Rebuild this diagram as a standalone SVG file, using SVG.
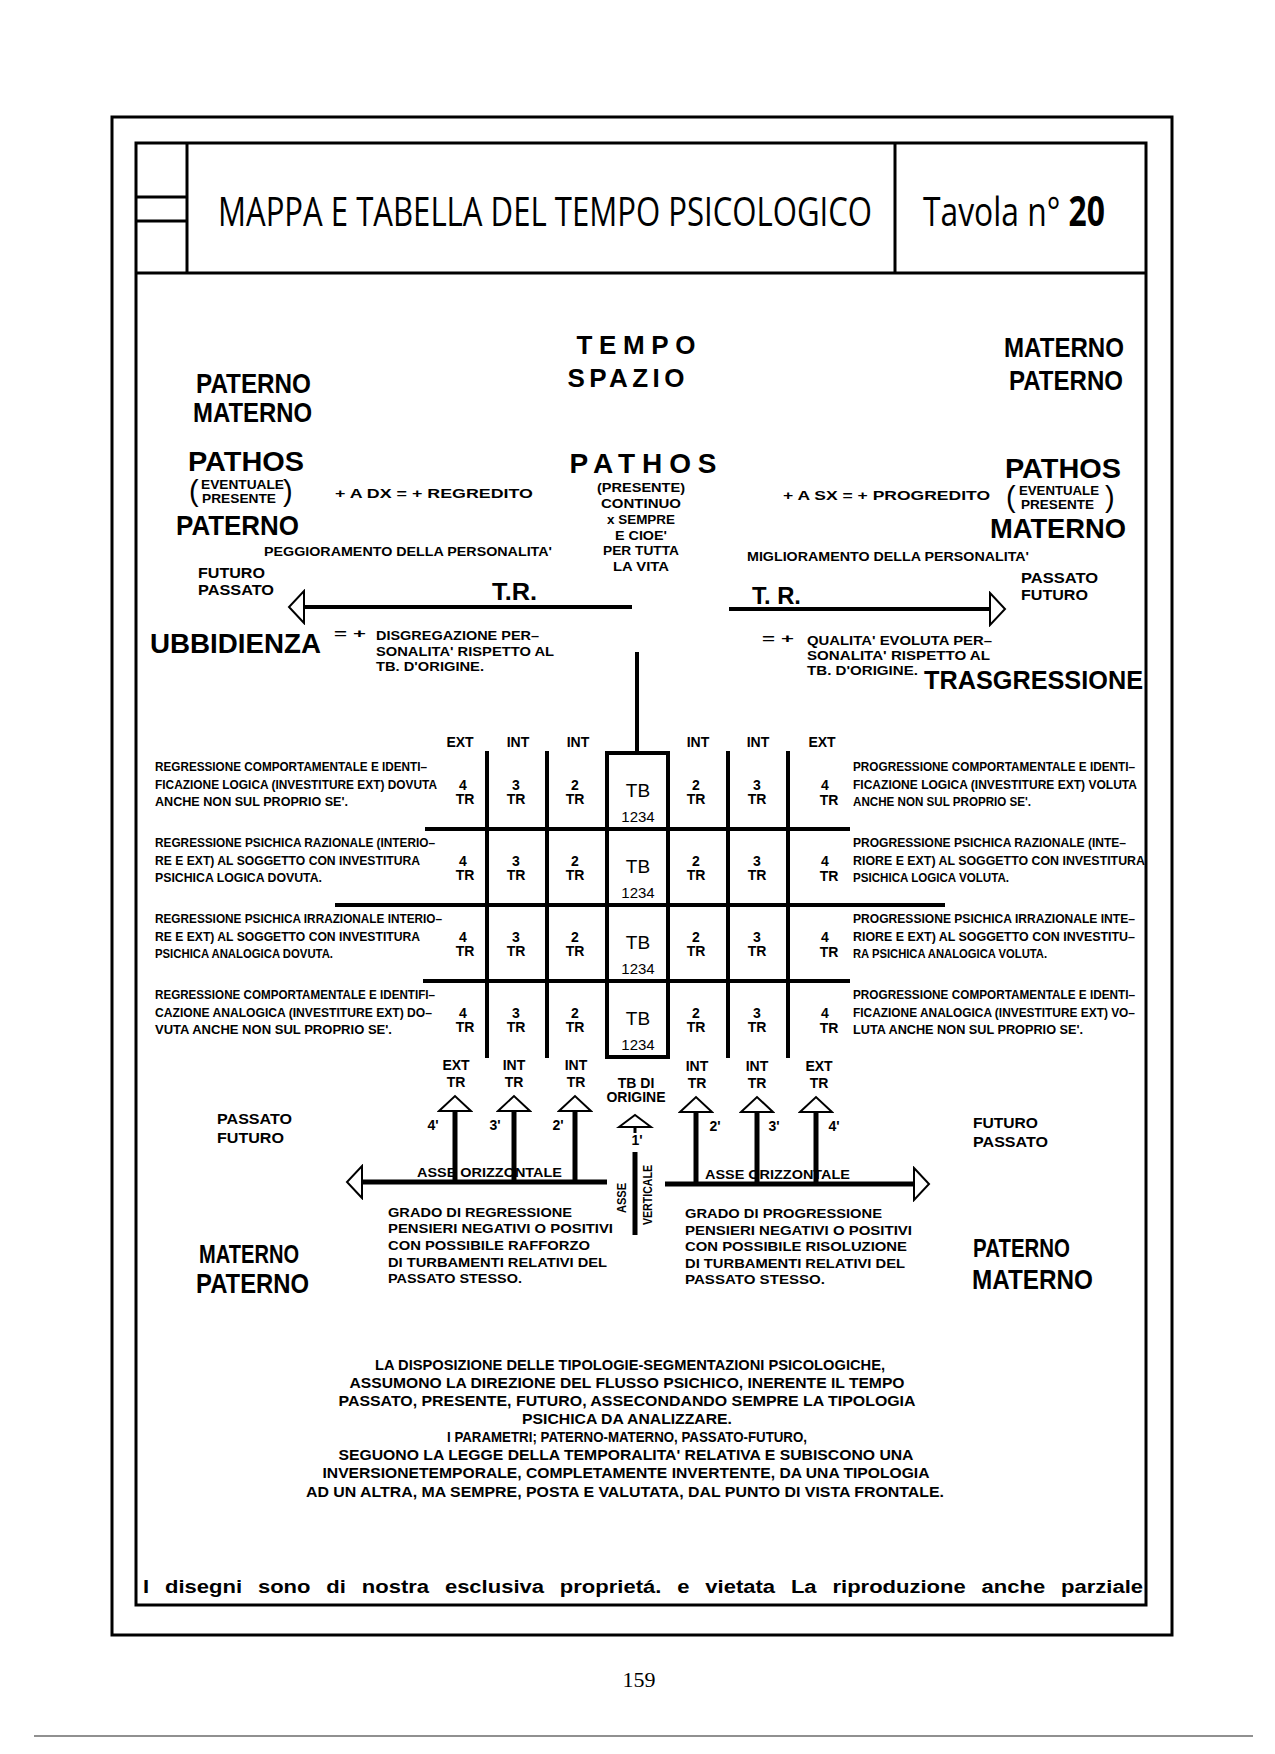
<svg xmlns="http://www.w3.org/2000/svg" width="1275" height="1754" viewBox="0 0 1275 1754">
<style>
text { font-family: "Liberation Sans", Arial, sans-serif; font-weight: bold; fill: #000; }
.big { font-size: 28px; }
.mid { font-size: 15px; }
.sm { font-size: 13px; }
.xs { font-size: 12px; }
.rt { font-size: 12px; }
.cell { font-size: 14px; text-anchor: middle; }
.tb { font-size: 19px; font-weight: normal; text-anchor: middle; }
.num { font-size: 15px; font-weight: normal; text-anchor: middle; }
.c { text-anchor: middle; }
.par { font-size: 29px; font-weight: normal; }
.frame { fill: none; stroke: #000; stroke-width: 3; }
.g { stroke: #000; stroke-width: 4; fill: none; }
.ax { stroke: #000; stroke-width: 5; fill: none; }
.title { font-family: "Open Sans", "Liberation Sans", sans-serif; font-weight: normal; font-size: 33px; }
.body { font-size: 15px; text-anchor: middle; }
.foot { font-size: 18px; }
.page { font-family: "Liberation Serif", serif; font-weight: normal; font-size: 22px; text-anchor: middle; }
</style>
<defs>
<marker id="head" markerUnits="userSpaceOnUse" markerWidth="20" markerHeight="36" viewBox="-2 -18 20 36" refX="0" refY="0" orient="auto">
<path d="M0,-16 L15,0 L0,16 Z" fill="#fff" stroke="#000" stroke-width="2"/>
</marker>
</defs>
<rect width="1275" height="1754" fill="#fff"/>

<g id="frame">
<rect class="frame" x="112" y="117" width="1060" height="1518"/>
<rect class="frame" x="136" y="143" width="1010" height="1462"/>
<line class="frame" x1="136" y1="273" x2="1146" y2="273"/>
<line class="frame" x1="187" y1="143" x2="187" y2="273"/>
<line class="frame" x1="136" y1="197" x2="187" y2="197"/>
<line class="frame" x1="136" y1="221" x2="187" y2="221"/>
<line class="frame" x1="895" y1="143" x2="895" y2="273"/>
</g>

<g id="header">
<text class="title" x="218" y="226" transform="matrix(1,0,0,1.22,0,-49.7)" textLength="654" lengthAdjust="spacingAndGlyphs">MAPPA E TABELLA DEL TEMPO PSICOLOGICO</text>
<text class="title" x="923" y="226" transform="matrix(1,0,0,1.22,0,-49.7)" textLength="182" lengthAdjust="spacingAndGlyphs">Tavola n° <tspan font-weight="bold">20</tspan></text>
</g>

<g id="left-top">
<text class="big" x="196" y="393" textLength="115" lengthAdjust="spacingAndGlyphs">PATERNO</text>
<text class="big" x="193" y="422" textLength="119" lengthAdjust="spacingAndGlyphs">MATERNO</text>
<text class="big" x="188" y="471" textLength="116" lengthAdjust="spacingAndGlyphs">PATHOS</text>
<text class="par" x="189" y="501">(</text>
<text class="par" x="283" y="501">)</text>
<text class="xs" x="201" y="489" textLength="83" lengthAdjust="spacingAndGlyphs">EVENTUALE</text>
<text class="xs" x="202" y="503" textLength="74" lengthAdjust="spacingAndGlyphs">PRESENTE</text>
<text class="sm" x="335" y="498" textLength="198" lengthAdjust="spacingAndGlyphs">+  A  DX  =  +  REGREDITO</text>
<text class="big" x="176" y="535" textLength="123" lengthAdjust="spacingAndGlyphs">PATERNO</text>
<text class="sm" x="264" y="556" textLength="288" lengthAdjust="spacingAndGlyphs">PEGGIORAMENTO  DELLA  PERSONALITA'</text>
<text class="mid" x="198" y="578" textLength="67" lengthAdjust="spacingAndGlyphs">FUTURO</text>
<text class="mid" x="198" y="595" textLength="76" lengthAdjust="spacingAndGlyphs">PASSATO</text>
<text x="492" y="600" font-size="24" textLength="45" lengthAdjust="spacingAndGlyphs">T.R.</text>
<text class="big" x="150" y="653" textLength="171" lengthAdjust="spacingAndGlyphs">UBBIDIENZA</text>
<text class="sm" x="334" y="638" textLength="32" lengthAdjust="spacingAndGlyphs">=  +</text>
<text class="sm" x="376" y="640" textLength="163" lengthAdjust="spacingAndGlyphs">DISGREGAZIONE  PER–</text>
<text class="sm" x="376" y="656" textLength="178" lengthAdjust="spacingAndGlyphs">SONALITA'  RISPETTO  AL</text>
<text class="sm" x="376" y="671" textLength="108" lengthAdjust="spacingAndGlyphs">TB.  D'ORIGINE.</text>
</g>

<g id="center-top">
<text class="c" x="636" y="354" font-size="26" textLength="119" lengthAdjust="spacing">TEMPO</text>
<text class="c" x="626" y="387" font-size="26" textLength="117" lengthAdjust="spacing">SPAZIO</text>
<text class="c big" x="643" y="473" textLength="147" lengthAdjust="spacing">PATHOS</text>
<text class="c sm" x="641" y="492" textLength="88" lengthAdjust="spacingAndGlyphs">(PRESENTE)</text>
<text class="c sm" x="641" y="508" textLength="80" lengthAdjust="spacingAndGlyphs">CONTINUO</text>
<text class="c sm" x="641" y="524" textLength="68" lengthAdjust="spacingAndGlyphs">x  SEMPRE</text>
<text class="c sm" x="641" y="540" textLength="52" lengthAdjust="spacingAndGlyphs">E  CIOE'</text>
<text class="c sm" x="641" y="555" textLength="76" lengthAdjust="spacingAndGlyphs">PER  TUTTA</text>
<text class="c sm" x="641" y="571" textLength="56" lengthAdjust="spacingAndGlyphs">LA  VITA</text>
</g>

<g id="right-top">
<text class="big" x="1004" y="357" textLength="120" lengthAdjust="spacingAndGlyphs">MATERNO</text>
<text class="big" x="1009" y="390" textLength="114" lengthAdjust="spacingAndGlyphs">PATERNO</text>
<text class="big" x="1005" y="478" textLength="116" lengthAdjust="spacingAndGlyphs">PATHOS</text>
<text class="par" x="1006" y="507">(</text>
<text class="par" x="1105" y="507">)</text>
<text class="xs" x="1019" y="495" textLength="80" lengthAdjust="spacingAndGlyphs">EVENTUALE</text>
<text class="xs" x="1021" y="509" textLength="73" lengthAdjust="spacingAndGlyphs">PRESENTE</text>
<text class="sm" x="783" y="500" textLength="207" lengthAdjust="spacingAndGlyphs">+  A  SX  =  +  PROGREDITO</text>
<text class="big" x="990" y="538" textLength="136" lengthAdjust="spacingAndGlyphs">MATERNO</text>
<text class="sm" x="747" y="561" textLength="282" lengthAdjust="spacingAndGlyphs">MIGLIORAMENTO  DELLA  PERSONALITA'</text>
<text class="mid" x="1021" y="583" textLength="77" lengthAdjust="spacingAndGlyphs">PASSATO</text>
<text class="mid" x="1021" y="600" textLength="67" lengthAdjust="spacingAndGlyphs">FUTURO</text>
<text x="752" y="604" font-size="24" textLength="49" lengthAdjust="spacingAndGlyphs">T. R.</text>
<text class="sm" x="762" y="643" textLength="32" lengthAdjust="spacingAndGlyphs">=  +</text>
<text class="sm" x="807" y="645" textLength="185" lengthAdjust="spacingAndGlyphs">QUALITA'  EVOLUTA  PER–</text>
<text class="sm" x="807" y="660" textLength="183" lengthAdjust="spacingAndGlyphs">SONALITA'  RISPETTO  AL</text>
<text class="xs" x="807" y="675" textLength="111" lengthAdjust="spacingAndGlyphs">TB.  D'ORIGINE.</text>
<text x="924" y="689" font-size="26" textLength="219" lengthAdjust="spacingAndGlyphs">TRASGRESSIONE</text>
</g>

<g id="grid">
<line class="g" x1="637" y1="652" x2="637" y2="753"/>
<text class="cell" x="460" y="747" font-size="13">EXT</text>
<text class="cell" x="518" y="747" font-size="13">INT</text>
<text class="cell" x="578" y="747" font-size="13">INT</text>
<text class="cell" x="698" y="747" font-size="13">INT</text>
<text class="cell" x="758" y="747" font-size="13">INT</text>
<text class="cell" x="822" y="747" font-size="13">EXT</text>
<rect class="g" x="607" y="753" width="61" height="304"/>
<line class="g" x1="487" y1="751" x2="487" y2="1058"/>
<line class="g" x1="547" y1="751" x2="547" y2="1058"/>
<line class="g" x1="728" y1="751" x2="728" y2="1058"/>
<line class="g" x1="788" y1="751" x2="788" y2="1058"/>
<line class="g" x1="425" y1="829" x2="850" y2="829"/>
<line class="g" x1="335" y1="905" x2="945" y2="905"/>
<line class="g" x1="423" y1="981" x2="850" y2="981"/>
</g>

<g id="row1">
<text class="cell" x="463" y="790">4</text><text class="cell" x="465" y="804">TR</text>
<text class="cell" x="516" y="790">3</text><text class="cell" x="516" y="804">TR</text>
<text class="cell" x="575" y="790">2</text><text class="cell" x="575" y="804">TR</text>
<text class="tb" x="638" y="797">TB</text><text class="num" x="638" y="822">1234</text>
<text class="cell" x="696" y="790">2</text><text class="cell" x="696" y="804">TR</text>
<text class="cell" x="757" y="790">3</text><text class="cell" x="757" y="804">TR</text>
<text class="cell" x="825" y="790">4</text><text class="cell" x="829" y="805">TR</text>
<text class="rt" x="155" y="771" textLength="272" lengthAdjust="spacingAndGlyphs">REGRESSIONE COMPORTAMENTALE E IDENTI–</text>
<text class="rt" x="155" y="789" textLength="282" lengthAdjust="spacingAndGlyphs">FICAZIONE LOGICA (INVESTITURE EXT) DOVUTA</text>
<text class="rt" x="155" y="806" textLength="193" lengthAdjust="spacingAndGlyphs">ANCHE NON SUL PROPRIO SE'.</text>
<text class="rt" x="853" y="771" textLength="282" lengthAdjust="spacingAndGlyphs">PROGRESSIONE COMPORTAMENTALE E IDENTI–</text>
<text class="rt" x="853" y="789" textLength="284" lengthAdjust="spacingAndGlyphs">FICAZIONE LOGICA (INVESTITURE EXT) VOLUTA</text>
<text class="rt" x="853" y="806" textLength="178" lengthAdjust="spacingAndGlyphs">ANCHE NON SUL PROPRIO SE'.</text>
</g>

<g id="row2">
<text class="cell" x="463" y="866">4</text><text class="cell" x="465" y="880">TR</text>
<text class="cell" x="516" y="866">3</text><text class="cell" x="516" y="880">TR</text>
<text class="cell" x="575" y="866">2</text><text class="cell" x="575" y="880">TR</text>
<text class="tb" x="638" y="873">TB</text><text class="num" x="638" y="898">1234</text>
<text class="cell" x="696" y="866">2</text><text class="cell" x="696" y="880">TR</text>
<text class="cell" x="757" y="866">3</text><text class="cell" x="757" y="880">TR</text>
<text class="cell" x="825" y="866">4</text><text class="cell" x="829" y="881">TR</text>
<text class="rt" x="155" y="847" textLength="280" lengthAdjust="spacingAndGlyphs">REGRESSIONE PSICHICA RAZIONALE (INTERIO–</text>
<text class="rt" x="155" y="865" textLength="265" lengthAdjust="spacingAndGlyphs">RE E EXT) AL SOGGETTO CON INVESTITURA</text>
<text class="rt" x="155" y="882" textLength="167" lengthAdjust="spacingAndGlyphs">PSICHICA LOGICA DOVUTA.</text>
<text class="rt" x="853" y="847" textLength="273" lengthAdjust="spacingAndGlyphs">PROGRESSIONE PSICHICA RAZIONALE (INTE–</text>
<text class="rt" x="853" y="865" textLength="292" lengthAdjust="spacingAndGlyphs">RIORE E EXT) AL SOGGETTO CON INVESTITURA</text>
<text class="rt" x="853" y="882" textLength="156" lengthAdjust="spacingAndGlyphs">PSICHICA LOGICA VOLUTA.</text>
</g>

<g id="row3">
<text class="cell" x="463" y="942">4</text><text class="cell" x="465" y="956">TR</text>
<text class="cell" x="516" y="942">3</text><text class="cell" x="516" y="956">TR</text>
<text class="cell" x="575" y="942">2</text><text class="cell" x="575" y="956">TR</text>
<text class="tb" x="638" y="949">TB</text><text class="num" x="638" y="974">1234</text>
<text class="cell" x="696" y="942">2</text><text class="cell" x="696" y="956">TR</text>
<text class="cell" x="757" y="942">3</text><text class="cell" x="757" y="956">TR</text>
<text class="cell" x="825" y="942">4</text><text class="cell" x="829" y="957">TR</text>
<text class="rt" x="155" y="923" textLength="287" lengthAdjust="spacingAndGlyphs">REGRESSIONE PSICHICA IRRAZIONALE INTERIO–</text>
<text class="rt" x="155" y="941" textLength="265" lengthAdjust="spacingAndGlyphs">RE E EXT) AL SOGGETTO CON INVESTITURA</text>
<text class="rt" x="155" y="958" textLength="178" lengthAdjust="spacingAndGlyphs">PSICHICA ANALOGICA DOVUTA.</text>
<text class="rt" x="853" y="923" textLength="282" lengthAdjust="spacingAndGlyphs">PROGRESSIONE PSICHICA IRRAZIONALE INTE–</text>
<text class="rt" x="853" y="941" textLength="282" lengthAdjust="spacingAndGlyphs">RIORE E EXT) AL SOGGETTO CON INVESTITU–</text>
<text class="rt" x="853" y="958" textLength="194" lengthAdjust="spacingAndGlyphs">RA PSICHICA ANALOGICA VOLUTA.</text>
</g>

<g id="row4">
<text class="cell" x="463" y="1018">4</text><text class="cell" x="465" y="1032">TR</text>
<text class="cell" x="516" y="1018">3</text><text class="cell" x="516" y="1032">TR</text>
<text class="cell" x="575" y="1018">2</text><text class="cell" x="575" y="1032">TR</text>
<text class="tb" x="638" y="1025">TB</text><text class="num" x="638" y="1050">1234</text>
<text class="cell" x="696" y="1018">2</text><text class="cell" x="696" y="1032">TR</text>
<text class="cell" x="757" y="1018">3</text><text class="cell" x="757" y="1032">TR</text>
<text class="cell" x="825" y="1018">4</text><text class="cell" x="829" y="1033">TR</text>
<text class="rt" x="155" y="999" textLength="280" lengthAdjust="spacingAndGlyphs">REGRESSIONE COMPORTAMENTALE E IDENTIFI–</text>
<text class="rt" x="155" y="1017" textLength="277" lengthAdjust="spacingAndGlyphs">CAZIONE ANALOGICA (INVESTITURE EXT) DO–</text>
<text class="rt" x="155" y="1034" textLength="237" lengthAdjust="spacingAndGlyphs">VUTA ANCHE NON SUL PROPRIO SE'.</text>
<text class="rt" x="853" y="999" textLength="282" lengthAdjust="spacingAndGlyphs">PROGRESSIONE COMPORTAMENTALE E IDENTI–</text>
<text class="rt" x="853" y="1017" textLength="282" lengthAdjust="spacingAndGlyphs">FICAZIONE ANALOGICA (INVESTITURE EXT) VO–</text>
<text class="rt" x="853" y="1034" textLength="230" lengthAdjust="spacingAndGlyphs">LUTA ANCHE NON SUL PROPRIO SE'.</text>
</g>

<g id="bottom-labels">
<text class="cell" x="456" y="1070" font-size="13">EXT</text><text class="cell" x="456" y="1087" font-size="13">TR</text>
<text class="cell" x="514" y="1070" font-size="13">INT</text><text class="cell" x="514" y="1087" font-size="13">TR</text>
<text class="cell" x="576" y="1070" font-size="13">INT</text><text class="cell" x="576" y="1087" font-size="13">TR</text>
<text class="cell" x="636" y="1088" font-size="13">TB  DI</text><text class="cell" x="636" y="1102" font-size="13">ORIGINE</text>
<text class="cell" x="697" y="1071" font-size="13">INT</text><text class="cell" x="697" y="1088" font-size="13">TR</text>
<text class="cell" x="757" y="1071" font-size="13">INT</text><text class="cell" x="757" y="1088" font-size="13">TR</text>
<text class="cell" x="819" y="1071" font-size="13">EXT</text><text class="cell" x="819" y="1088" font-size="13">TR</text>
<text class="cell" x="433" y="1130" font-size="13">4'</text>
<text class="cell" x="495" y="1130" font-size="13">3'</text>
<text class="cell" x="558" y="1130" font-size="13">2'</text>
<text class="cell" x="715" y="1131" font-size="13">2'</text>
<text class="cell" x="774" y="1131" font-size="13">3'</text>
<text class="cell" x="834" y="1131" font-size="13">4'</text>
<text class="cell" x="637" y="1145" font-size="13">1'</text>
<text class="sm" x="417" y="1177" textLength="145" lengthAdjust="spacingAndGlyphs">ASSE  ORIZZONTALE</text>
<text class="sm" x="705" y="1179" textLength="145" lengthAdjust="spacingAndGlyphs">ASSE  ORIZZONTALE</text>
<text class="xs c" transform="translate(626,1198) rotate(-90)" textLength="30" lengthAdjust="spacingAndGlyphs">ASSE</text>
<text class="xs c" transform="translate(652,1195) rotate(-90)" textLength="60" lengthAdjust="spacingAndGlyphs">VERTICALE</text>
<text class="mid" x="217" y="1124" textLength="75" lengthAdjust="spacingAndGlyphs">PASSATO</text>
<text class="mid" x="217" y="1143" textLength="67" lengthAdjust="spacingAndGlyphs">FUTURO</text>
<text class="mid" x="973" y="1128" textLength="65" lengthAdjust="spacingAndGlyphs">FUTURO</text>
<text class="mid" x="973" y="1147" textLength="75" lengthAdjust="spacingAndGlyphs">PASSATO</text>
<text x="199" y="1263" font-size="25" textLength="100" lengthAdjust="spacingAndGlyphs">MATERNO</text>
<text x="196" y="1293" font-size="28" textLength="113" lengthAdjust="spacingAndGlyphs">PATERNO</text>
<text x="973" y="1257" font-size="25" textLength="97" lengthAdjust="spacingAndGlyphs">PATERNO</text>
<text x="972" y="1289" font-size="28" textLength="121" lengthAdjust="spacingAndGlyphs">MATERNO</text>
<text class="sm" x="388" y="1217" textLength="184" lengthAdjust="spacingAndGlyphs">GRADO  DI  REGRESSIONE</text>
<text class="sm" x="388" y="1233" textLength="225" lengthAdjust="spacingAndGlyphs">PENSIERI  NEGATIVI  O  POSITIVI</text>
<text class="sm" x="388" y="1250" textLength="202" lengthAdjust="spacingAndGlyphs">CON  POSSIBILE  RAFFORZO</text>
<text class="sm" x="388" y="1267" textLength="219" lengthAdjust="spacingAndGlyphs">DI  TURBAMENTI  RELATIVI  DEL</text>
<text class="sm" x="388" y="1283" textLength="134" lengthAdjust="spacingAndGlyphs">PASSATO  STESSO.</text>
<text class="sm" x="685" y="1218" textLength="197" lengthAdjust="spacingAndGlyphs">GRADO  DI  PROGRESSIONE</text>
<text class="sm" x="685" y="1235" textLength="227" lengthAdjust="spacingAndGlyphs">PENSIERI  NEGATIVI  O  POSITIVI</text>
<text class="sm" x="685" y="1251" textLength="222" lengthAdjust="spacingAndGlyphs">CON  POSSIBILE  RISOLUZIONE</text>
<text class="sm" x="685" y="1268" textLength="220" lengthAdjust="spacingAndGlyphs">DI  TURBAMENTI  RELATIVI  DEL</text>
<text class="sm" x="685" y="1284" textLength="140" lengthAdjust="spacingAndGlyphs">PASSATO  STESSO.</text>
</g>

<g id="connectors">
<line class="g" x1="632" y1="607" x2="304" y2="607" marker-end="url(#head)"/>
<line class="g" x1="729" y1="609" x2="990" y2="609" marker-end="url(#head)"/>
<line class="ax" x1="455" y1="1182" x2="455" y2="1111" marker-end="url(#head)"/>
<line class="ax" x1="514" y1="1182" x2="514" y2="1111" marker-end="url(#head)"/>
<line class="ax" x1="575" y1="1182" x2="575" y2="1111" marker-end="url(#head)"/>
<line class="ax" x1="696" y1="1184" x2="696" y2="1112" marker-end="url(#head)"/>
<line class="ax" x1="757" y1="1184" x2="757" y2="1112" marker-end="url(#head)"/>
<line class="ax" x1="816" y1="1184" x2="816" y2="1112" marker-end="url(#head)"/>
<polygon points="619,1127 635,1115 651,1127" fill="#fff" stroke="#000" stroke-width="2"/>
<line x1="635" y1="1127" x2="635" y2="1133" stroke="#000" stroke-width="3"/>
<line class="ax" x1="635" y1="1152" x2="635" y2="1235"/>
<line class="ax" x1="607" y1="1182" x2="362" y2="1182" marker-end="url(#head)"/>
<line class="ax" x1="665" y1="1184" x2="914" y2="1184" marker-end="url(#head)"/>
</g>

<g id="notes">
<text class="body" x="630" y="1370" textLength="510" lengthAdjust="spacingAndGlyphs">LA DISPOSIZIONE DELLE TIPOLOGIE-SEGMENTAZIONI PSICOLOGICHE,</text>
<text class="body" x="627" y="1388" textLength="555" lengthAdjust="spacingAndGlyphs">ASSUMONO LA DIREZIONE DEL FLUSSO PSICHICO, INERENTE IL TEMPO</text>
<text class="body" x="627" y="1406" textLength="577" lengthAdjust="spacingAndGlyphs">PASSATO, PRESENTE, FUTURO, ASSECONDANDO SEMPRE LA TIPOLOGIA</text>
<text class="body" x="627" y="1424" textLength="210" lengthAdjust="spacingAndGlyphs">PSICHICA DA ANALIZZARE.</text>
<text class="body" x="627" y="1442" textLength="360" lengthAdjust="spacingAndGlyphs">I PARAMETRI; PATERNO-MATERNO, PASSATO-FUTURO,</text>
<text class="body" x="626" y="1460" textLength="575" lengthAdjust="spacingAndGlyphs">SEGUONO LA LEGGE DELLA TEMPORALITA' RELATIVA E SUBISCONO UNA</text>
<text class="body" x="626" y="1478" textLength="607" lengthAdjust="spacingAndGlyphs">INVERSIONETEMPORALE, COMPLETAMENTE INVERTENTE, DA UNA TIPOLOGIA</text>
<text class="body" x="625" y="1497" textLength="638" lengthAdjust="spacingAndGlyphs">AD UN ALTRA, MA SEMPRE, POSTA E VALUTATA, DAL PUNTO DI VISTA FRONTALE.</text>
</g>

<g id="footer">
<text class="foot" x="143" y="1593" textLength="1000" lengthAdjust="spacingAndGlyphs" word-spacing="8">I disegni sono di nostra esclusiva proprietá. e vietata La riproduzione anche parziale</text>
<text class="page" x="639" y="1687">159</text>
<line x1="34" y1="1736" x2="1253" y2="1736" stroke="#222" stroke-width="1.2"/>
</g>
</svg>
